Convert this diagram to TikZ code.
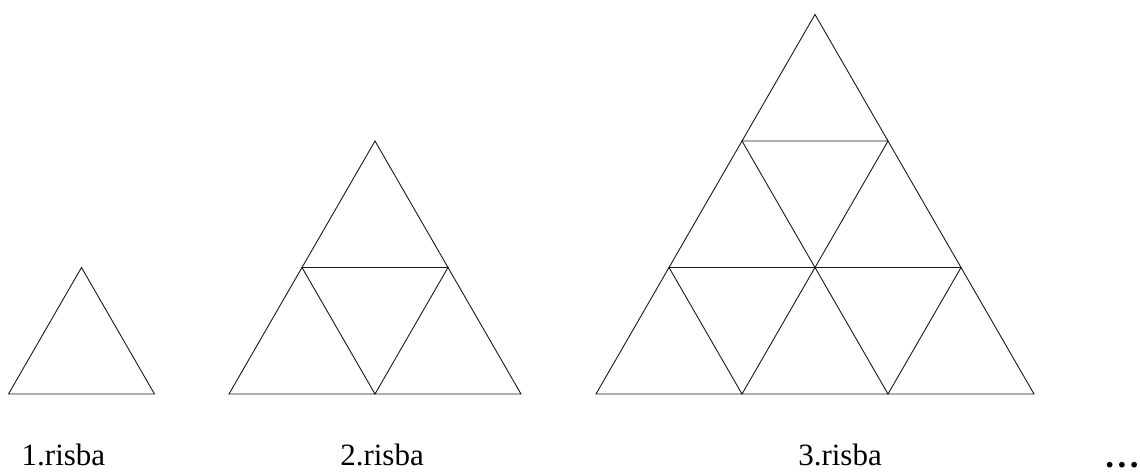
\documentclass[tikz,border=0pt]{standalone}
\usepackage{fontspec}
\setmainfont{Liberation Serif}
\usetikzlibrary{positioning}

% one figure: n rows of unit triangles, bottom centre at x
\newcommand{\trifig}[2]{%
  \foreach \i in {0,...,\numexpr#2-1\relax}{
    \foreach \j in {0,...,\i}{
      \draw[edge] ({#1+(\j-\i/2)*146},{394-(#2-\i)*126.5})
        -- ++(-73,126.5) -- ++(146,0) -- cycle;
    }
  }%
}

\begin{document}
\begin{tikzpicture}[x=1pt, y=-1pt,
    edge/.style={line width=0.9pt, line join=miter, color=black!90},
    caption/.style={anchor=base, inner sep=0pt, font=\fontsize{31}{37}\selectfont}]
    \useasboundingbox (0,0) rectangle (1140,473);

    \trifig{81.5}{1}
    \trifig{375}{2}
    \trifig{815}{3}

    \node[caption] (lab1) at (63.5,465) {1.risba};
    \node[caption] (lab2) at (382,465) {2.risba};
    \node[caption] (lab3) at (840,465) {3.risba};
    \node[caption, font=\fontsize{35}{40}\selectfont\bfseries] (dots) at (1122,467) {.\kern0.1em.\kern0.1em.};
\end{tikzpicture}
\end{document}
